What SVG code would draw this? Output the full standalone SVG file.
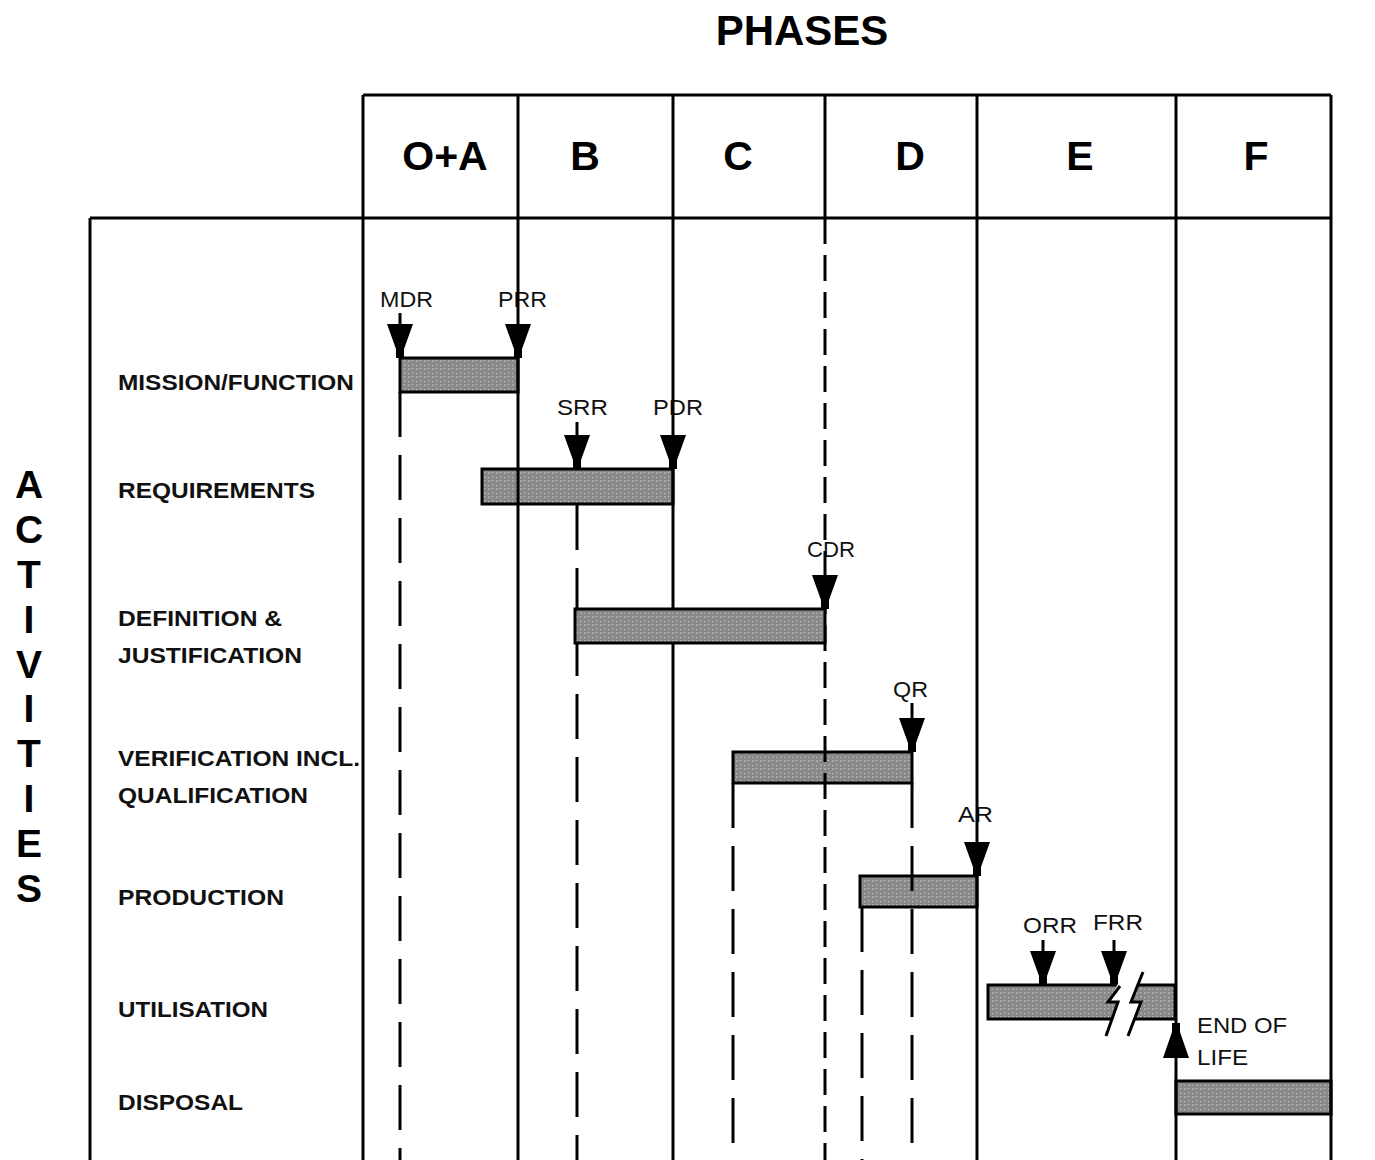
<svg xmlns="http://www.w3.org/2000/svg" width="1375" height="1160" viewBox="0 0 1375 1160">
<style>
.ln{stroke:#000;stroke-width:3;fill:none}
.dl{stroke:#000;stroke-width:3;fill:none;stroke-dasharray:45 18}
.dc{stroke:#000;stroke-width:3;fill:none;stroke-dasharray:26 11}
.bar{fill:url(#stipple);stroke:#000;stroke-width:3}
.ttl{font-family:"Liberation Sans",Arial,sans-serif;font-weight:bold;font-size:42px;fill:#000}
.ph{font-family:"Liberation Sans",Arial,sans-serif;font-weight:bold;font-size:41px;fill:#000;text-anchor:middle}
.act{font-family:"Liberation Sans",Arial,sans-serif;font-weight:bold;font-size:39px;fill:#000;text-anchor:middle}
.lbl{font-family:"Liberation Sans",Arial,sans-serif;font-weight:bold;font-size:22px;fill:#111}
.ms{font-family:"Liberation Sans",Arial,sans-serif;font-size:22px;fill:#111}
</style>
<defs>
<pattern id="stipple" width="8" height="8" patternUnits="userSpaceOnUse">
<rect width="8" height="8" fill="#898989"/>
<rect x="0" y="0" width="2" height="2" fill="#a8a8a8"/>
<rect x="4" y="4" width="2" height="2" fill="#a2a2a2"/>
<rect x="4" y="0" width="1" height="1" fill="#d4d4d4"/>
<rect x="0" y="5" width="1" height="1" fill="#c8c8c8"/>
</pattern>
<polygon id="arrDown" points="-13,-34 13,-34 4,-9 4,0 -4,0 -4,-9" fill="#000"/>
<polygon id="arrUp" points="-13,0 13,0 4,-26 4,-35 -4,-35 -4,-26" fill="#000"/>
</defs>
<rect width="1375" height="1160" fill="#fff"/>

<text class="ttl" x="802" y="45" text-anchor="middle">PHASES</text>

<g id="activities-label">
<text class="act" x="29" y="498">A</text>
<text class="act" x="29" y="543">C</text>
<text class="act" x="29" y="588">T</text>
<text class="act" x="29" y="633">I</text>
<text class="act" x="29" y="678">V</text>
<text class="act" x="29" y="722">I</text>
<text class="act" x="29" y="767">T</text>
<text class="act" x="29" y="812">I</text>
<text class="act" x="29" y="857">E</text>
<text class="act" x="29" y="902">S</text>
</g>

<g id="phase-headers">
<text class="ph" x="445" y="170">O+A</text>
<text class="ph" x="585" y="170">B</text>
<text class="ph" x="738" y="170">C</text>
<text class="ph" x="910" y="170">D</text>
<text class="ph" x="1080" y="170">E</text>
<text class="ph" x="1256" y="170">F</text>
</g>

<g id="row-labels">
<text class="lbl" x="118" y="390" textLength="236" lengthAdjust="spacingAndGlyphs">MISSION/FUNCTION</text>
<text class="lbl" x="118" y="498" textLength="197" lengthAdjust="spacingAndGlyphs">REQUIREMENTS</text>
<text class="lbl" x="118" y="626" textLength="164" lengthAdjust="spacingAndGlyphs">DEFINITION &amp;</text>
<text class="lbl" x="118" y="663" textLength="184" lengthAdjust="spacingAndGlyphs">JUSTIFICATION</text>
<text class="lbl" x="118" y="766" textLength="242" lengthAdjust="spacingAndGlyphs">VERIFICATION INCL.</text>
<text class="lbl" x="118" y="803" textLength="190" lengthAdjust="spacingAndGlyphs">QUALIFICATION</text>
<text class="lbl" x="118" y="905" textLength="166" lengthAdjust="spacingAndGlyphs">PRODUCTION</text>
<text class="lbl" x="118" y="1017" textLength="150" lengthAdjust="spacingAndGlyphs">UTILISATION</text>
<text class="lbl" x="118" y="1110" textLength="125" lengthAdjust="spacingAndGlyphs">DISPOSAL</text>
</g>

<g id="milestone-labels">
<text class="ms" x="380" y="307" textLength="53" lengthAdjust="spacingAndGlyphs">MDR</text>
<text class="ms" x="498" y="307" textLength="49" lengthAdjust="spacingAndGlyphs">PRR</text>
<text class="ms" x="557" y="415" textLength="51" lengthAdjust="spacingAndGlyphs">SRR</text>
<text class="ms" x="653" y="415" textLength="50" lengthAdjust="spacingAndGlyphs">PDR</text>
<text class="ms" x="807" y="557" textLength="48" lengthAdjust="spacingAndGlyphs">CDR</text>
<text class="ms" x="893" y="697" textLength="35" lengthAdjust="spacingAndGlyphs">QR</text>
<text class="ms" x="958" y="822" textLength="35" lengthAdjust="spacingAndGlyphs">AR</text>
<text class="ms" x="1023" y="933" textLength="54" lengthAdjust="spacingAndGlyphs">ORR</text>
<text class="ms" x="1093" y="930" textLength="50" lengthAdjust="spacingAndGlyphs">FRR</text>
<text class="ms" x="1197" y="1033" textLength="90" lengthAdjust="spacingAndGlyphs">END OF</text>
<text class="ms" x="1197" y="1065" textLength="51" lengthAdjust="spacingAndGlyphs">LIFE</text>
</g>

<g id="bars-under">
<rect id="bar-mission" class="bar" x="400" y="358" width="118" height="34"/>
<rect id="bar-requirements" class="bar" x="482" y="469" width="191" height="35"/>
<rect id="bar-verification" class="bar" x="733" y="752" width="179" height="31"/>
<rect id="bar-production" class="bar" x="860" y="876" width="117" height="31"/>
<rect id="bar-utilisation" class="bar" x="988" y="985" width="187" height="34"/>
<rect id="bar-disposal" class="bar" x="1176" y="1081" width="155" height="33"/>
</g>

<g id="connectors">
<path class="ln" d="M363,95 H1331 M90,218 H1331 M90,218 V1160 M363,95 V1160 M518,95 V1160 M673,95 V1160 M825,95 V218 M977,95 V1160 M1176,95 V1160 M1331,95 V1160"/>
<path class="dc" d="M825,218 V1160"/>
<path class="dl" d="M400,392 V1160 M577,505 V1160 M733,783 V1160 M862,907 V1160 M912,783 V1160"/>
<path class="ln" d="M400,313 V330 M577,422 V440 M912,703 V720 M1043,940 V955 M1114,940 V955"/>
</g>

<g id="bar-definition">
<rect class="bar" x="575" y="609" width="250" height="34"/>
</g>

<g id="milestones">
<use href="#arrDown" x="400" y="358"/>
<use href="#arrDown" x="518" y="358"/>
<use href="#arrDown" x="577" y="469"/>
<use href="#arrDown" x="673" y="469"/>
<use href="#arrDown" x="825" y="609"/>
<use href="#arrDown" x="912" y="752"/>
<use href="#arrDown" x="977" y="876"/>
<use href="#arrDown" x="1043" y="985"/>
<use href="#arrDown" x="1114" y="985"/>
<use href="#arrUp" x="1176" y="1058"/>
</g>

<g id="break-symbol">
<polygon points="1119,982 1140,982 1131,1002 1140,1002 1133,1022 1110,1022 1118,1002 1108,1002" fill="#fff"/>
<polyline class="ln" points="1120,986 1108,1002 1118,1002 1106,1036"/>
<polyline class="ln" points="1143,972 1131,1002 1141,1002 1128,1036"/>
</g>
</svg>
